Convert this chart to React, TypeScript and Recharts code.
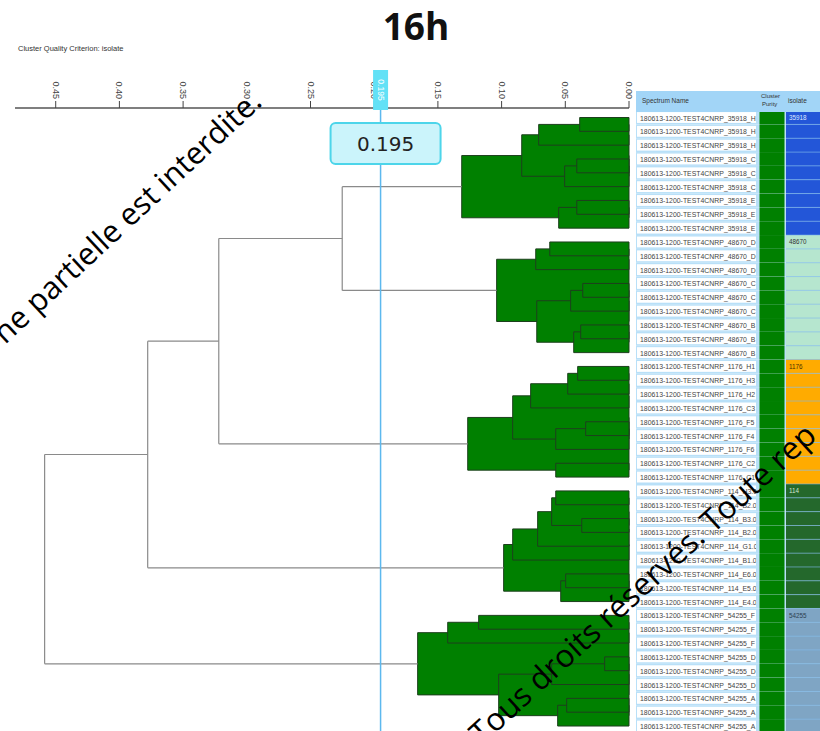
import React from "react";
import { ComposedChart, XAxis, YAxis, Scatter, ReferenceArea, ReferenceLine } from "recharts";

// rows of the spectrum table, top to bottom (= dendrogram leaves)
const spectrumNames = [
  "180613-1200-TEST4CNRP_35918_H", "180613-1200-TEST4CNRP_35918_H", "180613-1200-TEST4CNRP_35918_H",
  "180613-1200-TEST4CNRP_35918_C", "180613-1200-TEST4CNRP_35918_C", "180613-1200-TEST4CNRP_35918_C",
  "180613-1200-TEST4CNRP_35918_E", "180613-1200-TEST4CNRP_35918_E", "180613-1200-TEST4CNRP_35918_E",
  "180613-1200-TEST4CNRP_48670_D", "180613-1200-TEST4CNRP_48670_D", "180613-1200-TEST4CNRP_48670_D",
  "180613-1200-TEST4CNRP_48670_C", "180613-1200-TEST4CNRP_48670_C", "180613-1200-TEST4CNRP_48670_C",
  "180613-1200-TEST4CNRP_48670_B", "180613-1200-TEST4CNRP_48670_B", "180613-1200-TEST4CNRP_48670_B",
  "180613-1200-TEST4CNRP_1176_H1", "180613-1200-TEST4CNRP_1176_H3", "180613-1200-TEST4CNRP_1176_H2",
  "180613-1200-TEST4CNRP_1176_C3", "180613-1200-TEST4CNRP_1176_F5", "180613-1200-TEST4CNRP_1176_F4",
  "180613-1200-TEST4CNRP_1176_F6", "180613-1200-TEST4CNRP_1176_C2", "180613-1200-TEST4CNRP_1176_C1",
  "180613-1200-TEST4CNRP_114_H3.0", "180613-1200-TEST4CNRP_114_B2.0", "180613-1200-TEST4CNRP_114_B3.0",
  "180613-1200-TEST4CNRP_114_B2.0", "180613-1200-TEST4CNRP_114_G1.0", "180613-1200-TEST4CNRP_114_B1.0",
  "180613-1200-TEST4CNRP_114_E6.0", "180613-1200-TEST4CNRP_114_E5.0", "180613-1200-TEST4CNRP_114_E4.0",
  "180613-1200-TEST4CNRP_54255_F", "180613-1200-TEST4CNRP_54255_F", "180613-1200-TEST4CNRP_54255_F",
  "180613-1200-TEST4CNRP_54255_D", "180613-1200-TEST4CNRP_54255_D", "180613-1200-TEST4CNRP_54255_D",
  "180613-1200-TEST4CNRP_54255_A", "180613-1200-TEST4CNRP_54255_A", "180613-1200-TEST4CNRP_54255_A",
];
const isolateIds = ["35918", "48670", "1176", "114", "54255"];
const isolateSizes = [9, 9, 9, 9, 9];
const distanceTicks = [0, 0.05, 0.1, 0.15, 0.2, 0.25, 0.3, 0.35, 0.4, 0.45];
const cutoff = 0.195;

// [id, left, right, distance]; numbers are leaf rows, strings are earlier merges
const merges: [string, number | string, number | string, number][] = [
  ["a1", 0, 1, 0.0387], ["a2", "a1", 2, 0.0709], ["a3", 3, 4, 0.041], ["a4", "a3", 5, 0.0505],
  ["a5", "a2", "a4", 0.0842], ["a6", 6, 7, 0.041], ["a7", "a6", 8, 0.0552], ["a8", "a5", "a7", 0.1313],
  ["b1", 9, 10, 0.0622], ["b2", "b1", 11, 0.0732], ["b3", 12, 13, 0.0363], ["b4", "b3", 14, 0.0458],
  ["b5", 15, 16, 0.0379], ["b6", "b5", 17, 0.0434], ["b7", "b4", "b6", 0.0724], ["b8", "b2", "b7", 0.1039],
  ["c1", 18, 19, 0.0403], ["c2", "c1", 20, 0.0481], ["c3", "c2", 21, 0.0772], ["c4", 22, 23, 0.034],
  ["c5", "c4", 24, 0.0575], ["c6", "c3", "c5", 0.0913], ["c7", 25, 26, 0.0575], ["c8", "c6", "c7", 0.1266],
  ["d1", 27, 28, 0.0575], ["d2", 29, 30, 0.0371], ["d3", "d1", "d2", 0.0607], ["d4", "d3", 31, 0.0717],
  ["d5", "d4", 32, 0.0913], ["d6", 33, 34, 0.0497], ["d7", "d6", 35, 0.0536], ["d8", "d5", "d7", 0.0984],
  ["e1", 36, 37, 0.118], ["e2", "e1", 38, 0.1423], ["e3", 39, 40, 0.0191], ["e4", "e3", 41, 0.0607],
  ["e5", 42, 43, 0.0489], ["e6", "e5", 44, 0.056], ["e7", "e4", "e6", 0.1023], ["e8", "e2", "e7", 0.1659],
  ["f1", "a8", "b8", 0.2251], ["f2", "f1", "c8", 0.322], ["f3", "f2", "d8", 0.3778], ["f4", "f3", "e8", 0.4587],
];

const isolateColors: Record<string, string> = {
  "35918": "#2356d8", "48670": "#b6e6cf", "1176": "#ffab00", "114": "#24682c", "54255": "#7fa5c4",
};
const isolateText: Record<string, string> = {
  "35918": "#dfe8ff", "48670": "#333", "1176": "#4a3300", "114": "#cfe3cf", "54255": "#2e3f52",
};

const rowIsolate: string[] = [];
isolateIds.forEach((id, g) => { for (let k = 0; k < isolateSizes[g]; k++) rowIsolate.push(id); });

const nodeY: Record<string, number> = {};
const nodeH: Record<string, number> = {};
const yOf = (c: number | string) => (typeof c === "number" ? c : nodeY[c]);
const hOf = (c: number | string) => (typeof c === "number" ? 0 : nodeH[c]);
merges.forEach(([id, l, r, h]) => { nodeY[id] = (yOf(l) + yOf(r)) / 2; nodeH[id] = h; });

const clusterBoxes = merges
  .filter((m) => m[3] < cutoff)
  .sort((a, b) => b[3] - a[3])
  .map(([id, l, r, h]) => ({ id, x1: h, y1: yOf(l), y2: yOf(r) }));

const treeSegments: { key: string; seg: { x: number; y: number }[] }[] = [];
merges.filter((m) => m[3] >= cutoff).forEach(([id, l, r, h]) => {
  treeSegments.push({ key: id + "v", seg: [{ x: h, y: yOf(l) }, { x: h, y: yOf(r) }] });
  treeSegments.push({ key: id + "l", seg: [{ x: h, y: yOf(l) }, { x: hOf(l), y: yOf(l) }] });
  treeSegments.push({ key: id + "r", seg: [{ x: h, y: yOf(r) }, { x: hOf(r), y: yOf(r) }] });
});

const leafPoints = spectrumNames.map((_, i) => ({ x: 0, y: i }));
const rowTicks = spectrumNames.map((_, i) => i);
// the cutoff goes last so its marker is painted over the 0.20 label
const axisTicks = [...distanceTicks, cutoff];
const ROW = 13.83;

const DistTick = ({ x, y, payload }: any) => {
  if (payload.value === cutoff) {
    return (
      <g>
        <rect x={x - 7.5} y={y - 29} width={15} height={40} fill="#62e1f6" />
        <text transform={`translate(${x},${y - 9}) rotate(90)`} textAnchor="middle" dominantBaseline="central"
          fontSize={8.5} fill="#fff" fontFamily="Liberation Sans, Arial, sans-serif">{cutoff}</text>
      </g>
    );
  }
  return (
    <text transform={`translate(${x},${y}) rotate(90)`} textAnchor="end" dominantBaseline="central"
      fontSize={9} fill="#444" fontFamily="Liberation Sans, Arial, sans-serif">
      {Number(payload.value).toFixed(2)}
    </text>
  );
};

const RowTick = ({ x, y, payload }: any) => {
  const i = payload.value as number;
  const iso = rowIsolate[i];
  const first = i === 0 || rowIsolate[i - 1] !== iso;
  const top = y - ROW / 2;
  return (
    <g>
      <clipPath id={`rc${i}`}><rect x={x + 8} y={top} width={119} height={ROW} /></clipPath>
      <rect x={x + 7} y={top} width={184} height={ROW} fill="#b9e0f8" />
      <rect x={x + 8} y={top + 1.5} width={119} height={ROW - 3} fill="#fff" />
      <text x={x + 11} y={y + 0.5} dominantBaseline="central" fontSize={6.9} fill="#444"
        fontFamily="Liberation Sans, Arial, sans-serif" clipPath={`url(#rc${i})`}>
        {spectrumNames[i]}
      </text>
      <rect x={x + 130.5} y={top} width={25} height={ROW} fill="#008000" />
      <rect x={x + 157} y={top} width={34} height={ROW} fill={isolateColors[iso]} />
      <line x1={x + 157} x2={x + 191} y1={top} y2={top} stroke="#7db8ea" strokeOpacity={0.6} strokeWidth={1} />
      {first && (
        <text x={x + 160} y={y} dominantBaseline="central" fontSize={6.3} fill={isolateText[iso]}
          fontFamily="Liberation Sans, Arial, sans-serif">{iso}</text>
      )}
    </g>
  );
};

const cutoffLabel = (props: any) => {
  const { x, y } = props.viewBox;
  return (
    <g>
      <rect x={x - 50} y={y + 15} width={110} height={41} rx={5} fill="#cbf4fb" stroke="#4dd5ea" strokeWidth={2} />
      <text x={x + 5} y={y + 36} textAnchor="middle" dominantBaseline="central" fontSize={20} fill="#222"
        fontFamily="DejaVu Sans, sans-serif">{cutoff}</text>
    </g>
  );
};

export default function App() {
  return (
    <div style={{ position: "absolute", left: 0, top: 0, width: 820, height: 731, background: "#fff", overflow: "hidden" }}>
      <ComposedChart width={820} height={731} margin={{ top: 68, right: 0, bottom: 0, left: 15 }}>
        <XAxis xAxisId={0} dataKey="x" type="number" orientation="top" reversed domain={[0, 0.48195]}
          allowDataOverflow ticks={axisTicks} interval={0} height={40} tickSize={7} tickMargin={2}
          tick={<DistTick />} axisLine={{ stroke: "#555", strokeWidth: 1.5 }} tickLine={{ stroke: "#444" }} />
        <YAxis yAxisId={0} dataKey="y" type="number" orientation="right" reversed domain={[-0.687, 44.36]}
          allowDataOverflow ticks={rowTicks} interval={0} width={191} tickSize={0} tickMargin={0}
          axisLine={false} tickLine={false} tick={<RowTick />} />
        {clusterBoxes.map((b) => (
          <ReferenceArea key={b.id} x1={b.x1} x2={0} y1={b.y1} y2={b.y2} fill="#008000" fillOpacity={1}
            stroke="#1d3f1d" strokeWidth={1} ifOverflow="visible" />
        ))}
        {treeSegments.map((s) => (
          <ReferenceLine key={s.key} segment={s.seg} stroke="#8a8a8a" strokeWidth={1.2} ifOverflow="visible" />
        ))}
        <ReferenceLine x={cutoff} stroke="#5cb8ee" strokeWidth={1.5} label={cutoffLabel} />
        <Scatter data={leafPoints} fill="none" shape={() => <g />} isAnimationActive={false} />
      </ComposedChart>
      <svg width={820} height={731} style={{ position: "absolute", left: 0, top: 0, pointerEvents: "none" }}
        fontFamily="Liberation Sans, Arial, sans-serif">
        <text x={416} y={40} textAnchor="middle" fontSize={37} fontWeight="bold" fill="#111"
          fontFamily="Open Sans, sans-serif">16h</text>
        <text x={18} y={51} fontSize={7.5} fill="#333">Cluster Quality Criterion: isolate</text>
        <rect x={636} y={91} width={184} height={21} fill="#a2d5f7" />
        <text x={642} y={103} fontSize={6.5} fill="#333">Spectrum Name</text>
        <text x={761} y={98} fontSize={6} fill="#333">Cluster</text>
        <text x={762} y={106} fontSize={6} fill="#333">Purity</text>
        <text x={788} y={103} fontSize={6.5} fill="#333">isolate</text>
        <text transform="translate(5,345) rotate(-43)" fontSize={31} fill="#000"
          fontFamily="Open Sans, sans-serif">ne partielle est interdite.</text>
        <text transform="translate(482,746) rotate(-42.5)" fontSize={31.5} fill="#000"
          fontFamily="Open Sans, sans-serif">Tous droits réservés. Toute rep</text>
      </svg>
    </div>
  );
}
